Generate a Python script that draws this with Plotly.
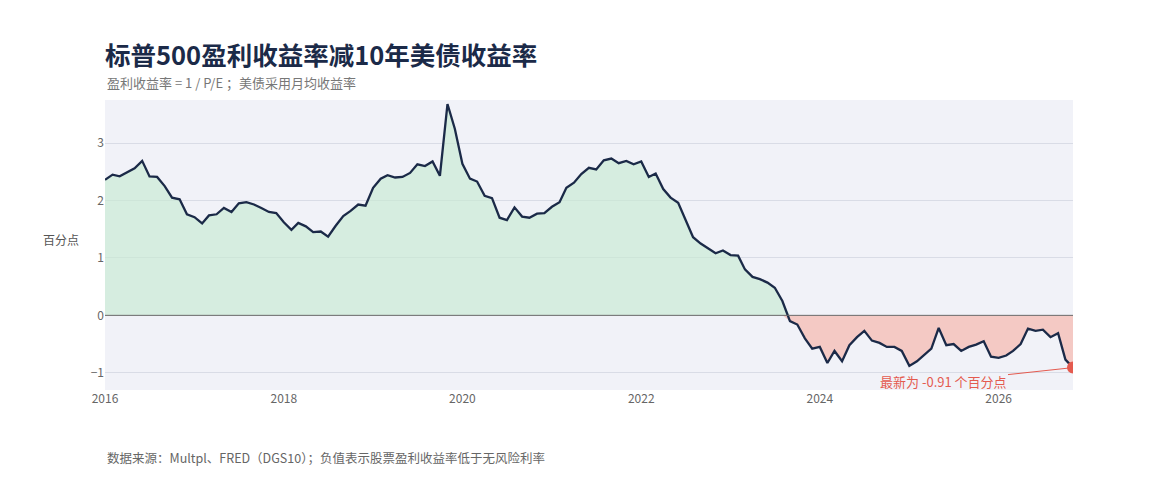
import plotly.graph_objects as go
import pandas as pd
import numpy as np

# monthly spread: S&P 500 earnings yield minus 10y treasury yield (percentage points)
dates = pd.date_range("2016-01-01", periods=131, freq="MS")
spread = [
    2.36, 2.45, 2.42, 2.49, 2.56, 2.69, 2.42, 2.41, 2.25, 2.05, 2.02, 1.76,
    1.71, 1.60, 1.74, 1.76, 1.87, 1.80, 1.95, 1.97, 1.93, 1.87, 1.80, 1.78,
    1.62, 1.49, 1.61, 1.55, 1.45, 1.46, 1.37, 1.56, 1.73, 1.82, 1.93, 1.91,
    2.22, 2.38, 2.44, 2.40, 2.41, 2.48, 2.63, 2.60, 2.68, 2.43, 3.68, 3.25,
    2.64, 2.38, 2.33, 2.08, 2.04, 1.70, 1.66, 1.88, 1.72, 1.70, 1.77, 1.78,
    1.89, 1.97, 2.22, 2.31, 2.46, 2.57, 2.54, 2.70, 2.73, 2.65, 2.69, 2.63,
    2.68, 2.41, 2.47, 2.20, 2.05, 1.96, 1.65, 1.36, 1.25, 1.16, 1.08, 1.13,
    1.05, 1.04, 0.80, 0.67, 0.63, 0.57, 0.48, 0.25, -0.10, -0.16, -0.40, -0.58,
    -0.55, -0.83, -0.62, -0.80, -0.52, -0.38, -0.27, -0.44, -0.48, -0.55, -0.55, -0.62,
    -0.88, -0.80, -0.70, -0.58, -0.22, -0.52, -0.50, -0.62, -0.55, -0.51, -0.45, -0.72,
    -0.74, -0.70, -0.62, -0.50, -0.23, -0.27, -0.25, -0.38, -0.31, -0.77, -0.91,
]
latest = -0.91

title = "标普500盈利收益率减10年美债收益率"
subtitle = "盈利收益率 = 1 / P/E ；美债采用月均收益率"
source = "数据来源：Multpl、FRED（DGS10）；负值表示股票盈利收益率低于无风险利率"

navy = "#1b2a48"
font = "Noto Sans CJK SC"

s = np.array(spread)
pos = np.clip(s, 0, None)
neg = np.clip(s, None, 0)

fig = go.Figure()
fig.add_trace(go.Scatter(x=dates, y=pos, fill="tozeroy", mode="none",
                         fillcolor="rgba(200,233,210,0.65)", hoverinfo="skip"))
fig.add_trace(go.Scatter(x=dates, y=neg, fill="tozeroy", mode="none",
                         fillcolor="rgba(246,178,168,0.65)", hoverinfo="skip"))
fig.add_trace(go.Scatter(x=dates, y=spread, mode="lines",
                         line=dict(color=navy, width=2.3)))
fig.add_trace(go.Scatter(x=[dates[-1]], y=[latest], mode="markers",
                         marker=dict(color="#e45a4f", size=12)))

fig.add_hline(y=0, line=dict(color="#6b6b6b", width=1))

fig.add_annotation(x=dates[-1], y=latest, text="最新为 -0.91 个百分点",
                   showarrow=True, arrowhead=0, arrowwidth=1, arrowcolor="#e45a4f",
                   ax=-130, ay=14, font=dict(color="#e45a4f", size=13))
fig.add_annotation(xref="paper", yref="paper", x=-0.025, y=0.52, text="百分点",
                   showarrow=False, xanchor="right", font=dict(size=12, color="#555"))
fig.add_annotation(xref="paper", yref="paper", x=-0.002, y=1.162, text=f"<b>{title}</b>",
                   showarrow=False, xanchor="left", yanchor="middle",
                   font=dict(size=25.5, color=navy))
fig.add_annotation(xref="paper", yref="paper", x=0, y=1.062, text=subtitle,
                   showarrow=False, xanchor="left", yanchor="middle",
                   font=dict(size=13, color="#777"))
fig.add_annotation(xref="paper", yref="paper", x=0, y=-0.232, text=source,
                   showarrow=False, xanchor="left", yanchor="middle",
                   font=dict(size=12.5, color="#666"))

fig.update_layout(
    width=1148, height=472,
    margin=dict(l=97, r=83, t=92, b=90),
    paper_bgcolor="white", plot_bgcolor="#f1f2f8",
    font=dict(family=font, color="#555"),
    showlegend=False,
    xaxis=dict(range=[dates[0], dates[-1]], dtick="M24", tickformat="%Y",
               showgrid=False, zeroline=False, tickfont=dict(size=12, color="#666")),
    yaxis=dict(range=[-1.3, 3.75], tickvals=[-1, 0, 1, 2, 3], gridcolor="#d9dce6",
               zeroline=False, tickfont=dict(size=12, color="#666")),
)

fig.write_html("out.html")
